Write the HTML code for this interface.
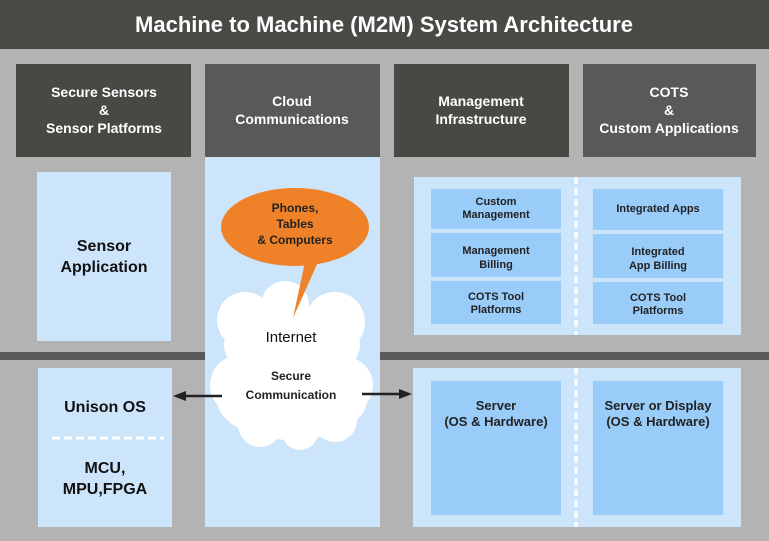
<!DOCTYPE html>
<html><head><meta charset="utf-8"><style>
html,body{margin:0;padding:0;background:#b3b3b3;}
svg{display:block;font-family:"Liberation Sans",Arial,sans-serif;font-weight:bold;}
</style></head><body>
<svg width="769" height="541" viewBox="0 0 769 541" xmlns="http://www.w3.org/2000/svg">
<rect width="769" height="541" fill="#b3b3b3"/>
<rect width="769" height="49" fill="#4a4945"/>
<text x="384" y="32" text-anchor="middle" fill="#fff" font-size="22">Machine to Machine (M2M) System Architecture</text>
<!-- headers -->
<rect x="16" y="64" width="175" height="93" fill="#484844"/>
<rect x="205" y="64" width="175" height="93" fill="#595959"/>
<rect x="394" y="64" width="175" height="93" fill="#484844"/>
<rect x="583" y="64" width="173" height="93" fill="#595959"/>
<g fill="#fff" font-size="14" text-anchor="middle">
<text x="104" y="97">Secure Sensors</text><text x="104" y="115">&amp;</text><text x="104" y="133">Sensor Platforms</text>
<text x="292" y="106">Cloud</text><text x="292" y="124">Communications</text>
<text x="481" y="106">Management</text><text x="481" y="124">Infrastructure</text>
<text x="669" y="97">COTS</text><text x="669" y="115">&amp;</text><text x="669" y="133">Custom Applications</text>
</g>
<!-- band -->
<rect x="0" y="352" width="769" height="8" fill="#5a5a5a"/>
<!-- cloud column -->
<rect x="205" y="157" width="175" height="370" fill="#cce5fb"/>
<!-- left -->
<rect x="37" y="172" width="134" height="169" fill="#cce5fb"/>
<text x="104" y="251" text-anchor="middle" font-size="16" fill="#111">Sensor</text>
<text x="104" y="272" text-anchor="middle" font-size="16" fill="#111">Application</text>
<rect x="38" y="368" width="134" height="159" fill="#cce5fb"/>
<text x="105" y="412" text-anchor="middle" font-size="16" fill="#111">Unison OS</text>
<line x1="52" y1="438" x2="164" y2="438" stroke="#fff" stroke-width="3" stroke-dasharray="8,4"/>
<text x="105" y="473" text-anchor="middle" font-size="16" fill="#111">MCU,</text>
<text x="105" y="494" text-anchor="middle" font-size="16" fill="#111">MPU,FPGA</text>
<!-- right upper -->
<rect x="414" y="177" width="327" height="158" fill="#cce5fb"/>
<g fill="#99ccf9">
<rect x="431" y="189" width="130" height="40"/><rect x="431" y="233" width="130" height="44"/><rect x="431" y="281" width="130" height="43"/>
<rect x="593" y="189" width="130" height="41"/><rect x="593" y="234" width="130" height="44"/><rect x="593" y="282" width="130" height="42"/>
</g>
<line x1="576" y1="177" x2="576" y2="335" stroke="#fff" stroke-width="3" stroke-dasharray="7,4"/>
<g font-size="11" fill="#222" text-anchor="middle">
<text x="496" y="205">Custom</text><text x="496" y="218">Management</text>
<text x="496" y="254">Management</text><text x="496" y="268">Billing</text>
<text x="496" y="300">COTS Tool</text><text x="496" y="313">Platforms</text>
<text x="658" y="212">Integrated Apps</text>
<text x="658" y="255">Integrated</text><text x="658" y="269">App Billing</text>
<text x="658" y="301">COTS Tool</text><text x="658" y="314">Platforms</text>
</g>
<!-- right lower -->
<rect x="413" y="368" width="328" height="159" fill="#cce5fb"/>
<rect x="431" y="381" width="130" height="134" fill="#99ccf9"/>
<rect x="593" y="381" width="130" height="134" fill="#99ccf9"/>
<line x1="576" y1="368" x2="576" y2="527" stroke="#fff" stroke-width="3" stroke-dasharray="7,4"/>
<g font-size="13" fill="#222" text-anchor="middle">
<text x="496" y="410">Server</text><text x="496" y="426">(OS &amp; Hardware)</text>
<text x="658" y="410">Server or Display</text><text x="658" y="426">(OS &amp; Hardware)</text>
</g>
<!-- cloud -->
<g fill="#fff">
<ellipse cx="292" cy="345" rx="68" ry="40"/>
<ellipse cx="292" cy="400" rx="75" ry="40"/>
<circle cx="245" cy="320" r="28"/><circle cx="285" cy="305" r="24"/><circle cx="335" cy="322" r="30"/>
<circle cx="240" cy="385" r="30"/><circle cx="345" cy="385" r="28"/>
<circle cx="260" cy="425" r="22"/><circle cx="300" cy="432" r="18"/><circle cx="335" cy="420" r="22"/>
</g>
<text x="291" y="342" text-anchor="middle" font-size="15" font-weight="normal" fill="#111">Internet</text>
<text x="291" y="380" text-anchor="middle" font-size="12" fill="#222">Secure</text>
<text x="291" y="399" text-anchor="middle" font-size="12" fill="#222">Communication</text>
<!-- balloon -->
<path d="M305,262 L293,318 L318,262 Z" fill="#ef8228"/>
<ellipse cx="295" cy="227" rx="74" ry="39" fill="#ef8228"/>
<g font-size="12" fill="#222" text-anchor="middle">
<text x="295" y="212">Phones,</text><text x="295" y="228">Tables</text><text x="295" y="244">&amp; Computers</text>
</g>
<!-- arrows -->
<line x1="222" y1="396" x2="182" y2="396" stroke="#222" stroke-width="2.5"/>
<path d="M173,396 L186,391 L186,401 Z" fill="#222"/>
<line x1="362" y1="394" x2="402" y2="394" stroke="#222" stroke-width="2.5"/>
<path d="M412,394 L399,389 L399,399 Z" fill="#222"/>
</svg>
</body></html>
